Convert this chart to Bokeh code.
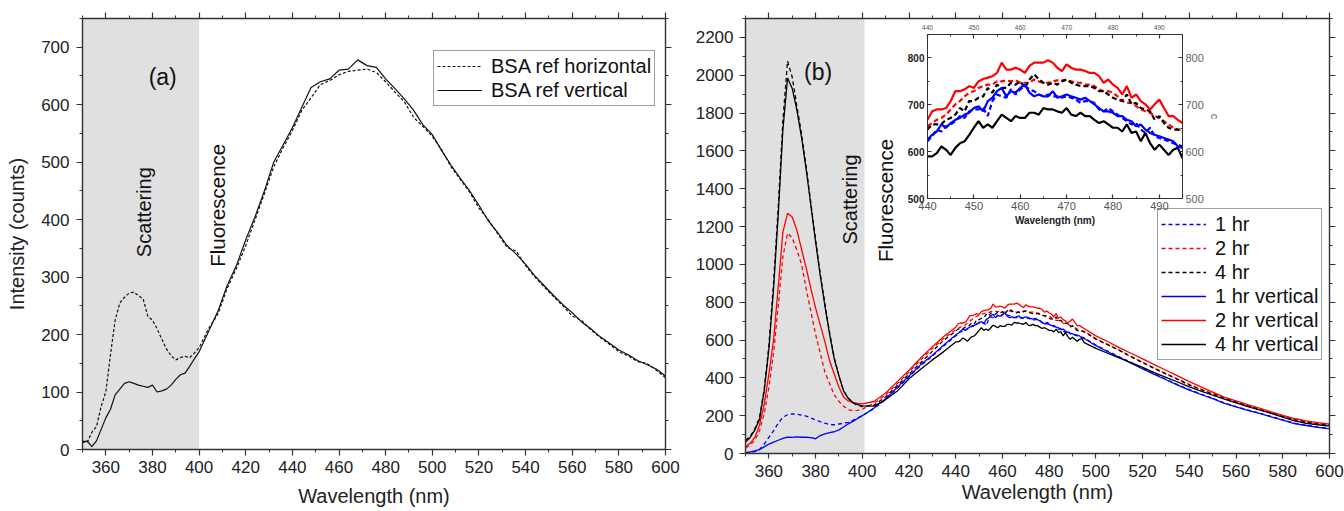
import math
from bokeh.plotting import figure
from bokeh.layouts import row
from bokeh.models import Range1d, LinearAxis, SingleIntervalTicker, BoxAnnotation, Label
from bokeh.embed import file_html
from bokeh.resources import INLINE

FONT = "Liberation Sans"

# ---------------- Panel (a) data ----------------
WL_A_SCAT = list(range(350, 401, 2))
WL_A_FLUO = list(range(404, 601, 4))
BSA_HOR_SCAT = [15, 12, 30, 40, 75, 100, 165, 225, 255, 265, 272, 274, 268, 262, 232, 225, 210, 192, 175, 163,
                156, 160, 162, 160, 168, 177]
BSA_HOR_FLUO = [210, 235, 280, 315, 355, 400, 445, 492, 525, 555, 590, 612, 635, 642, 652, 658, 660, 662, 656, 640,
                622, 605, 578, 562, 545, 522, 492, 470, 448, 420, 400, 376, 352, 345, 320, 300, 283, 266, 250, 232,
                225, 208, 195, 183, 170, 163, 153, 150, 138, 125]
BSA_VER_SCAT = [12, 15, 5, 15, 35, 55, 70, 95, 105, 115, 118, 115, 112, 110, 108, 112, 100, 102, 105, 112,
                122, 130, 133, 145, 158, 170]
BSA_VER_FLUO = [205, 240, 285, 320, 365, 405, 450, 500, 530, 560, 595, 630, 640, 645, 660, 662, 678, 668, 665, 645,
                628, 610, 590, 565, 548, 520, 495, 472, 450, 425, 398, 378, 355, 340, 322, 302, 285, 268, 252, 238,
                222, 210, 196, 185, 173, 165, 155, 148, 140, 128]
SCATTER_BAND_A = (350, 400)

# ---------------- Panel (b) data ----------------
WL_B_SCAT = list(range(350, 401, 2))
WL_B_RISE = list(range(405, 436, 5))
WL_B_INSET = list(range(440, 496, 1))
WL_B_TAIL = list(range(500, 601, 5))

H1_SCAT = [5, 5, 10, 22, 50, 85, 120, 160, 192, 205, 210, 207, 203, 198, 188, 177, 168, 160, 153, 152,
           156, 160, 165, 175, 188, 200]
H2_SCAT = [30, 45, 70, 120, 210, 350, 530, 780, 1040, 1165, 1140, 1075, 1000, 870, 750, 630, 530, 430, 370, 310,
           275, 250, 232, 226, 228, 235]
H4_SCAT = [70, 90, 130, 190, 340, 570, 900, 1300, 1760, 2075, 1990, 1835, 1690, 1515, 1320, 1130, 950, 790, 640, 505,
           412, 332, 292, 268, 255, 248]
V1_SCAT = [5, 8, 14, 20, 35, 50, 60, 70, 80, 86, 85, 88, 86, 86, 84, 78, 95, 104, 110, 115,
           125, 140, 157, 170, 185, 200]
V2_SCAT = [35, 55, 85, 150, 260, 420, 600, 880, 1170, 1270, 1250, 1180, 1080, 980, 870, 770, 680, 590, 490, 420,
           350, 298, 278, 270, 265, 262]
V4_SCAT = [60, 85, 125, 180, 330, 550, 870, 1260, 1710, 1985, 1930, 1815, 1670, 1500, 1310, 1120, 940, 780, 630, 500,
           410, 330, 292, 268, 258, 252]

H1_RISE = [238, 285, 345, 405, 465, 515, 570]
H2_RISE = [265, 310, 370, 430, 495, 555, 610]
H4_RISE = [255, 300, 360, 420, 480, 540, 600]
V1_RISE = [240, 290, 350, 410, 470, 520, 575]
V2_RISE = [275, 320, 380, 440, 505, 565, 620]
V4_RISE = [250, 285, 330, 395, 445, 495, 540]

H1_INSET = [622, 633, 647, 643, 654, 658, 665, 676, 672, 686, 690, 690, 693, 676, 708, 722, 718, 715, 733, 722,
            733, 740, 733, 729, 722, 718, 722, 718, 718, 715, 718, 715, 711, 704, 708, 708, 704, 690, 686, 693,
            686, 679, 672, 665, 658, 661, 647, 640, 651, 633, 629, 626, 622, 618, 615, 611]
H2_INSET = [654, 661, 668, 672, 679, 690, 701, 708, 718, 726, 729, 736, 740, 743, 743, 750, 750, 752, 750, 752,
            747, 747, 747, 754, 750, 747, 747, 750, 752, 752, 753, 750, 747, 747, 743, 743, 740, 733, 729, 729,
            726, 718, 708, 704, 704, 697, 690, 686, 683, 676, 672, 665, 658, 651, 647, 647]
H4_INSET = [647, 658, 658, 659, 668, 672, 679, 693, 686, 708, 708, 715, 718, 736, 726, 743, 736, 736, 747, 743,
            750, 736, 754, 765, 754, 747, 743, 747, 743, 750, 754, 747, 743, 740, 740, 740, 736, 729, 729, 722,
            715, 711, 708, 722, 701, 704, 693, 690, 686, 668, 676, 661, 651, 647, 647, 643]
V1_INSET = [626, 636, 643, 658, 651, 661, 668, 672, 679, 683, 693, 697, 686, 708, 715, 729, 736, 718, 729, 726,
            736, 743, 726, 718, 722, 718, 718, 729, 715, 718, 722, 718, 715, 711, 715, 708, 701, 693, 686, 686,
            683, 676, 676, 668, 665, 654, 658, 647, 640, 636, 633, 629, 626, 622, 611, 608]
V2_INSET = [668, 686, 690, 690, 693, 708, 729, 729, 733, 740, 736, 750, 755, 758, 761, 768, 790, 775, 775, 779,
            775, 768, 783, 790, 790, 790, 795, 790, 779, 772, 786, 779, 775, 775, 772, 768, 768, 761, 747, 754,
            743, 736, 722, 740, 715, 722, 708, 701, 690, 701, 711, 693, 676, 676, 668, 661]
V4_INSET = [590, 590, 597, 611, 604, 593, 608, 618, 622, 636, 651, 665, 651, 658, 651, 665, 679, 672, 665, 676,
            672, 672, 683, 683, 679, 693, 690, 690, 686, 683, 693, 679, 676, 683, 676, 676, 668, 661, 665, 658,
            651, 651, 643, 658, 640, 643, 622, 640, 618, 604, 615, 604, 593, 604, 608, 586]

H1_TAIL = [573, 541, 511, 482, 450, 421, 392, 364, 338, 314, 292, 267, 248, 230, 214, 196, 178, 160, 150, 140, 133]
H2_TAIL = [607, 577, 547, 514, 482, 452, 422, 394, 365, 340, 316, 294, 274, 254, 235, 216, 198, 181, 169, 160, 153]
H4_TAIL = [605, 575, 545, 512, 480, 450, 420, 392, 362, 338, 314, 292, 272, 252, 232, 214, 195, 178, 166, 157, 150]
V1_TAIL = [570, 538, 508, 478, 447, 418, 390, 362, 335, 312, 290, 265, 246, 228, 212, 194, 176, 158, 148, 138, 130]
V2_TAIL = [622, 592, 560, 530, 500, 470, 440, 410, 380, 352, 325, 298, 278, 258, 240, 220, 202, 185, 173, 163, 155]
V4_TAIL = [556, 530, 505, 480, 455, 428, 403, 378, 352, 330, 308, 287, 268, 248, 230, 212, 192, 172, 160, 152, 145]
SCATTER_BAND_B = (350, 401)

SERIES_B = [
    ("1 hr", "#0000ff", "dashed", H1_SCAT, H1_RISE, H1_INSET, H1_TAIL),
    ("2 hr", "#ff0000", "dashed", H2_SCAT, H2_RISE, H2_INSET, H2_TAIL),
    ("4 hr", "#000000", "dashed", H4_SCAT, H4_RISE, H4_INSET, H4_TAIL),
    ("1 hr vertical", "#0000ff", "solid", V1_SCAT, V1_RISE, V1_INSET, V1_TAIL),
    ("2 hr vertical", "#ff0000", "solid", V2_SCAT, V2_RISE, V2_INSET, V2_TAIL),
    ("4 hr vertical", "#000000", "solid", V4_SCAT, V4_RISE, V4_INSET, V4_TAIL),
]


def style_axis(ax, size="17px", tick_out=6, minor_out=3, tick_in=0, minor_in=0, color="#222", line="#333"):
    ax.axis_line_color = line
    ax.axis_line_width = 1.4
    ax.major_tick_line_color = line
    ax.minor_tick_line_color = line
    ax.major_tick_line_width = 1.2
    ax.minor_tick_line_width = 1
    ax.major_tick_out = tick_out
    ax.major_tick_in = tick_in
    ax.minor_tick_out = minor_out
    ax.minor_tick_in = minor_in
    ax.major_label_text_font = FONT
    ax.major_label_text_font_size = size
    ax.major_label_text_color = color
    ax.axis_label_text_font = FONT
    ax.axis_label_text_font_style = "normal"
    ax.axis_label_text_font_size = "20px"
    ax.axis_label_text_color = "#222"


def blank_axis(ticker, tick_out=6):
    ax = LinearAxis(ticker=ticker)
    style_axis(ax, tick_out=tick_out)
    ax.major_label_text_font_size = "1px"
    ax.major_label_text_color = None
    ax.major_label_text_alpha = 0
    ax.major_label_standoff = 0
    return ax


def style_legend(p, loc):
    lg = p.legend[0]
    lg.location = loc
    lg.label_text_font = FONT
    lg.label_text_font_size = "20px"
    lg.label_text_color = "#111"
    lg.label_standoff = 9
    lg.glyph_width = 45
    lg.glyph_height = 24
    lg.label_height = 24
    lg.spacing = 0
    lg.padding = 3
    lg.margin = 0
    lg.border_line_color = "#444"
    lg.border_line_width = 1
    lg.background_fill_color = "white"
    lg.background_fill_alpha = 1


def add_text(p, x, y, text, size="20px", angle=0.0):
    p.add_layout(Label(x=x, y=y, text=text, angle=angle, text_align="center", text_baseline="middle",
                       text_font=FONT, text_font_size=size, text_color="#111"))


# ---------------- Figure (a) ----------------
pa = figure(frame_width=583, frame_height=431, x_range=Range1d(350, 600), y_range=Range1d(0, 750),
            output_backend="svg", toolbar_location=None,
            min_border_left=82, min_border_right=15, min_border_top=18, min_border_bottom=62)
pa.xgrid.visible = False
pa.ygrid.visible = False
pa.outline_line_color = None
pa.xaxis.ticker = SingleIntervalTicker(interval=20, num_minor_ticks=2)
pa.yaxis.ticker = SingleIntervalTicker(interval=100, num_minor_ticks=2)
style_axis(pa.xaxis[0])
style_axis(pa.yaxis[0])
pa.xaxis.axis_label = "Wavelength (nm)"
pa.yaxis.axis_label = "Intensity (counts)"
pa.xaxis.major_label_standoff = 5
pa.xaxis.axis_label_standoff = 9
pa.yaxis.major_label_standoff = 7
pa.yaxis.axis_label_standoff = 10
pa.add_layout(blank_axis(SingleIntervalTicker(interval=20, num_minor_ticks=2)), "above")
pa.add_layout(blank_axis(SingleIntervalTicker(interval=100, num_minor_ticks=2)), "right")
pa.add_layout(BoxAnnotation(left=SCATTER_BAND_A[0], right=SCATTER_BAND_A[1], fill_color="#e0e0e0",
                            fill_alpha=1, line_color=None, level="underlay"))
wl_a = WL_A_SCAT + WL_A_FLUO
pa.line(wl_a, BSA_HOR_SCAT + BSA_HOR_FLUO, line_color="#111", line_width=1.2, line_dash="3 2",
        legend_label="BSA ref horizontal")
pa.line(wl_a, BSA_VER_SCAT + BSA_VER_FLUO, line_color="#111", line_width=1.2,
        legend_label="BSA ref vertical")
style_legend(pa, (351, 343))
add_text(pa, 384.4, 648, "(a)", size="23px")
add_text(pa, 376.3, 413, "Scattering", angle=math.pi / 2)
add_text(pa, 407.8, 425, "Fluorescence", size="20.5px", angle=math.pi / 2)

# ---------------- Figure (b) ----------------
pb = figure(frame_width=584, frame_height=435, x_range=Range1d(350, 600), y_range=Range1d(0, 2300),
            output_backend="svg", toolbar_location=None,
            min_border_left=65, min_border_right=15, min_border_top=18, min_border_bottom=58)
pb.xgrid.visible = False
pb.ygrid.visible = False
pb.outline_line_color = None
pb.xaxis.ticker = SingleIntervalTicker(interval=20, num_minor_ticks=2)
pb.yaxis.ticker = SingleIntervalTicker(interval=200, num_minor_ticks=2)
style_axis(pb.xaxis[0], tick_out=5)
style_axis(pb.yaxis[0])
pb.xaxis.axis_label = "Wavelength (nm)"
pb.xaxis.major_label_standoff = 6
pb.xaxis.axis_label_standoff = 1
pb.yaxis.major_label_standoff = 6
pb.add_layout(blank_axis(SingleIntervalTicker(interval=20, num_minor_ticks=2)), "above")
pb.add_layout(blank_axis(SingleIntervalTicker(interval=200, num_minor_ticks=2)), "right")
pb.add_layout(BoxAnnotation(left=SCATTER_BAND_B[0], right=SCATTER_BAND_B[1], fill_color="#e0e0e0",
                            fill_alpha=1, line_color=None, level="underlay"))
wl_b = WL_B_SCAT + WL_B_RISE + WL_B_INSET + WL_B_TAIL
for name, col, dash, s1, s2, s3, s4 in SERIES_B:
    pb.line(wl_b, s1 + s2 + s3 + s4, line_color=col, line_width=1.3,
            line_dash=("4 3" if dash == "dashed" else "solid"), legend_label=name)
style_legend(pb, (412, 93))
add_text(pb, 381.1, 2015, "(b)", size="23px")
add_text(pb, 394.9, 1343, "Scattering", angle=math.pi / 2)
add_text(pb, 409.8, 1338, "Fluorescence", size="20.5px", angle=math.pi / 2)

# ---------------- Inset (zoom of panel b, 440-495 nm) ----------------
pi = figure(frame_width=255, frame_height=164, x_range=Range1d(440, 495), y_range=Range1d(500, 850),
            output_backend="svg", toolbar_location=None,
            min_border_left=30, min_border_right=40, min_border_top=14, min_border_bottom=34,
            border_fill_color=None, background_fill_color="white", outline_line_color="#333",
            styles={"position": "absolute", "left": "897px", "top": "16px", "z-index": "5"})
pi.xgrid.visible = False
pi.ygrid.visible = False
pi.xaxis.ticker = SingleIntervalTicker(interval=10, num_minor_ticks=2)
pi.yaxis.ticker = SingleIntervalTicker(interval=100, num_minor_ticks=2)
style_axis(pi.xaxis[0], size="11px", tick_out=0, minor_out=0, tick_in=4, minor_in=2, color="#555")
style_axis(pi.yaxis[0], size="10px", tick_out=0, minor_out=0, tick_in=4, minor_in=2, color="#222")
pi.yaxis.major_label_text_font_style = "bold"
pi.xaxis.axis_label = "Wavelength (nm)"
pi.xaxis.axis_label_text_font_size = "10px"
pi.xaxis.axis_label_text_font_style = "bold"
pi.xaxis.major_label_standoff = 3
pi.xaxis.axis_label_standoff = 2
pi.yaxis.major_label_standoff = 3
for a in (pi.xaxis[0], pi.yaxis[0]):
    a.axis_line_width = 1
top_ax = LinearAxis(ticker=SingleIntervalTicker(interval=10, num_minor_ticks=2))
style_axis(top_ax, size="6.5px", tick_out=0, minor_out=0, tick_in=4, minor_in=2, color="#555")
top_ax.axis_line_width = 1
top_ax.major_label_standoff = 5
pi.add_layout(top_ax, "above")
right_ax = LinearAxis(ticker=SingleIntervalTicker(interval=100, num_minor_ticks=2), axis_label="c")
style_axis(right_ax, size="11px", tick_out=0, minor_out=0, tick_in=4, minor_in=2, color="#666")
right_ax.axis_line_width = 1
right_ax.major_label_standoff = 3
right_ax.axis_label_text_font_size = "11px"
right_ax.axis_label_text_color = "#666"
right_ax.axis_label_standoff = 2
pi.add_layout(right_ax, "right")
for name, col, dash, s1, s2, s3, s4 in SERIES_B:
    pi.line(WL_B_INSET, s3, line_color=col, line_width=2.2,
            line_dash=("5 3" if dash == "dashed" else "solid"))

layout = row(pa, pb, pi)

open("out.html", "w").write(file_html(layout, INLINE))
